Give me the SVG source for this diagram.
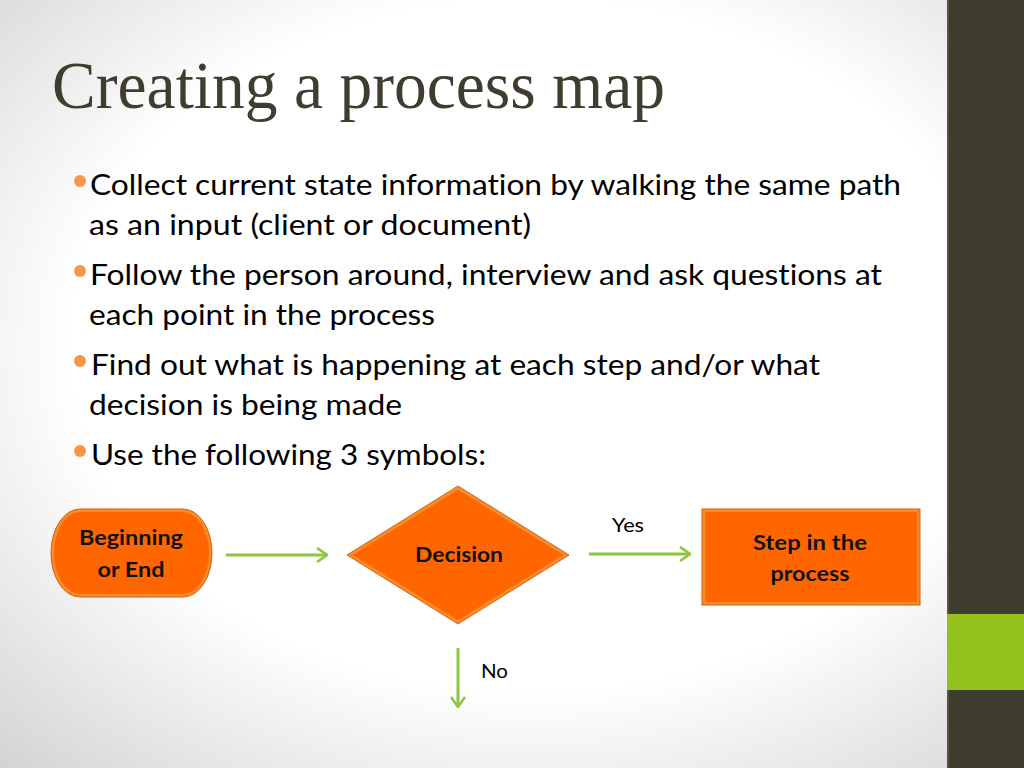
<svg xmlns="http://www.w3.org/2000/svg" width="1024" height="768" viewBox="0 0 1024 768">
<defs>
<radialGradient id="bg" cx="52%" cy="45%" r="75%">
<stop offset="0" stop-color="#ffffff"/>
<stop offset="0.6" stop-color="#ffffff"/>
<stop offset="1" stop-color="#d4d4d4"/>
</radialGradient>
<marker id="chev" viewBox="0 0 12 16" refX="11" refY="8" markerWidth="12" markerHeight="16" markerUnits="userSpaceOnUse" orient="auto">
<path d="M1,1 L11,8 L1,15" fill="none" stroke="#8dc63f" stroke-width="2.6"/>
</marker>
</defs>
<style>
text{font-variant-ligatures:none}
.title{font-family:"Liberation Serif","Times New Roman",serif;font-size:68px;fill:#403d2e}
.body{font-family:Lato,"Liberation Sans",sans-serif;font-size:28px;fill:#000}
.dot{fill:#f79646}
.nodefill{fill:#ff6600;stroke:#f68b2c;stroke-width:3}
.edge{fill:none;stroke:#d2600f;stroke-width:1}
.lbl{font-family:Lato,"Liberation Sans",sans-serif;font-size:20px;font-weight:bold;fill:#111;text-anchor:middle}
.clbl{font-family:Lato,"Liberation Sans",sans-serif;font-size:20px;fill:#000}
.conn{fill:none;stroke:#8dc63f;stroke-width:3;marker-end:url(#chev)}
</style>
<rect x="0" y="0" width="1024" height="768" fill="url(#bg)"/>
<rect x="947" y="0" width="77" height="768" fill="#3e3c2e"/>
<rect x="947" y="0" width="2" height="768" fill="#56543f"/>
<rect x="947" y="614" width="77" height="76" fill="#95c11f"/>

<text class="title" x="52" y="108" textLength="613" lengthAdjust="spacingAndGlyphs">Creating a process map</text>

<g id="bullets">
<circle class="dot" cx="80" cy="181" r="6"/>
<circle class="dot" cx="80" cy="271" r="6"/>
<circle class="dot" cx="80" cy="361" r="6"/>
<circle class="dot" cx="80" cy="451" r="6"/>
<text class="body" x="90" y="195" textLength="811" lengthAdjust="spacingAndGlyphs">Collect current state information by walking the same path</text>
<text class="body" x="89" y="235" textLength="442" lengthAdjust="spacingAndGlyphs">as an input (client or document)</text>
<text class="body" x="90" y="285" textLength="792" lengthAdjust="spacingAndGlyphs">Follow the person around, interview and ask questions at</text>
<text class="body" x="89" y="325" textLength="346" lengthAdjust="spacingAndGlyphs">each point in the process</text>
<text class="body" x="91" y="375" textLength="729" lengthAdjust="spacingAndGlyphs">Find out what is happening at each step and/or what</text>
<text class="body" x="89" y="415" textLength="313" lengthAdjust="spacingAndGlyphs">decision is being made</text>
<text class="body" x="91" y="465" textLength="395" lengthAdjust="spacingAndGlyphs">Use the following 3 symbols:</text>
</g>

<g id="connectors">
<line class="conn" x1="226" y1="555" x2="327" y2="555"/>
<line class="conn" x1="589" y1="554" x2="690" y2="554"/>
<line class="conn" x1="458" y1="648" x2="458" y2="707"/>
<text class="clbl" x="612" y="532" textLength="32" lengthAdjust="spacingAndGlyphs">Yes</text>
<text class="clbl" x="481" y="678" textLength="27" lengthAdjust="spacingAndGlyphs">No</text>
</g>

<g id="node-begin">
<rect class="nodefill" x="52.5" y="510.5" width="158" height="85" rx="28" ry="42.5"/>
<rect class="edge" x="51" y="509" width="161" height="88" rx="29" ry="44"/>
<text class="lbl" x="131" y="545" textLength="104" lengthAdjust="spacingAndGlyphs">Beginning</text>
<text class="lbl" x="131" y="577" textLength="67" lengthAdjust="spacingAndGlyphs">or End</text>
</g>

<g id="node-decision">
<polygon class="nodefill" points="350,555 458,488 566,555 458,622"/>
<polygon class="edge" points="347,555 458,486 569,555 458,624"/>
<text class="lbl" x="459" y="562" textLength="88" lengthAdjust="spacingAndGlyphs">Decision</text>
</g>

<g id="node-step">
<rect class="nodefill" x="703.5" y="510.5" width="215" height="93"/>
<rect class="edge" x="702" y="509" width="218" height="96"/>
<text class="lbl" x="810" y="550" textLength="114" lengthAdjust="spacingAndGlyphs">Step in the</text>
<text class="lbl" x="810" y="581" textLength="79" lengthAdjust="spacingAndGlyphs">process</text>
</g>
</svg>
